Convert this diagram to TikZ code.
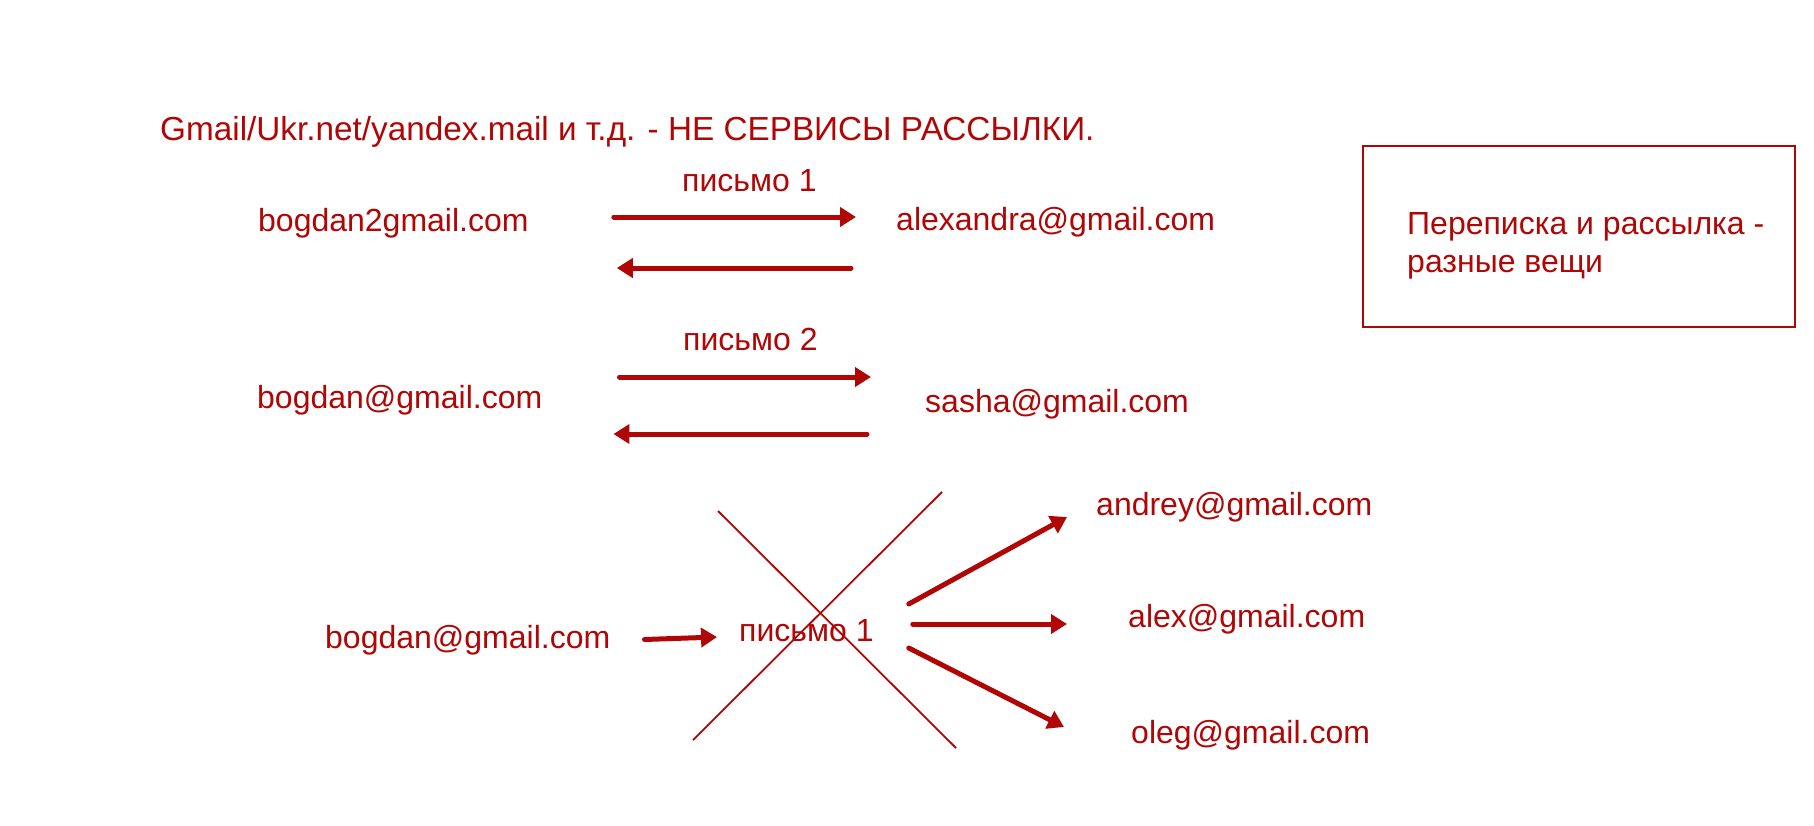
\documentclass[tikz,border=0pt]{standalone}
\usepackage{fontspec}
\setmainfont{Liberation Sans}
\usetikzlibrary{arrows.meta,calc}
\definecolor{mailred}{HTML}{B00606}

\begin{document}
\begin{tikzpicture}[x=1pt,y=-1pt,
  addr/.style={font=\fontsize{32}{38}\selectfont,text=mailred,inner sep=0pt,anchor=base west,text height=24pt,text depth=7pt},
  notetext/.style={font=\fontsize{32}{38}\selectfont,text=mailred,inner sep=0pt,align=left},
  send/.style={mailred,line width=5pt,line cap=round,-{Triangle[length=16pt,width=19pt]}},
  strike/.style={mailred,line width=1.8pt},
  notebox/.style={draw=mailred,line width=2pt,minimum width=432pt,minimum height=181pt,inner sep=0pt}]
  \useasboundingbox (0,0) rectangle (1814,825);

  % Title
  \node[addr,font=\fontsize{33.3}{40}\selectfont] (title) at (160,140) {Gmail/Ukr.net/yandex.mail и т.д. - НЕ СЕРВИСЫ РАССЫЛКИ.};

  % First exchange
  \node[addr] (from1) at (258,231) {bogdan2gmail.com};
  \node[addr] (to1) at (896,230) {alexandra@gmail.com};
  \node[addr] (letter1) at (682,191) {письмо 1};
  \draw[send] ($(from1.east)+(85,-5.5)$) -- ($(to1.west)+(-40,-4.5)$);
  \draw[send] ($(to1.west)+(-45,46.5)$) -- ($(from1.east)+(88,45.5)$);

  % Second exchange
  \node[addr] (from2) at (257,408) {bogdan@gmail.com};
  \node[addr] (to2) at (925,412) {sasha@gmail.com};
  \node[addr] (letter2) at (683,350) {письмо 2};
  \draw[send] ($(from2.east)+(77,-22.5)$) -- ($(to2.west)+(-54,-26.5)$);
  \draw[send] ($(to2.west)+(-58,30.5)$) -- ($(from2.east)+(71,34.5)$);

  % Mass mailing (crossed out)
  \node[addr] (from3) at (325,648) {bogdan@gmail.com};
  \node[addr] (letter3) at (739,641) {письмо 1};
  \node[addr] (rcpt1) at (1096,515) {andrey@gmail.com};
  \node[addr] (rcpt2) at (1128,627) {alex@gmail.com};
  \node[addr] (rcpt3) at (1131,743) {oleg@gmail.com};
  \draw[send] ($(from3.east)+(34,0)$) -- ($(letter3.west)+(-22,4.5)$);
  \draw[send] ($(letter3.east)+(35,-28.5)$) -- ($(rcpt1.west)+(-29,10.5)$);
  \draw[send] ($(letter3.east)+(39,-8.5)$) -- ($(rcpt2.west)+(-61,5.5)$);
  \draw[send] ($(letter3.east)+(35,15.5)$) -- ($(rcpt3.west)+(-67,-7.5)$);
  \draw[strike] (718,511) -- (956,748);
  \draw[strike] (942,492) -- (693,740);

  % Side note
  \node[notebox] (note) at (1579,236.5) {};
  \node[notetext,anchor=west] (notebody) at ($(note.west)+(45,9)$) {Переписка и рассылка -\\разные вещи};
\end{tikzpicture}
\end{document}
